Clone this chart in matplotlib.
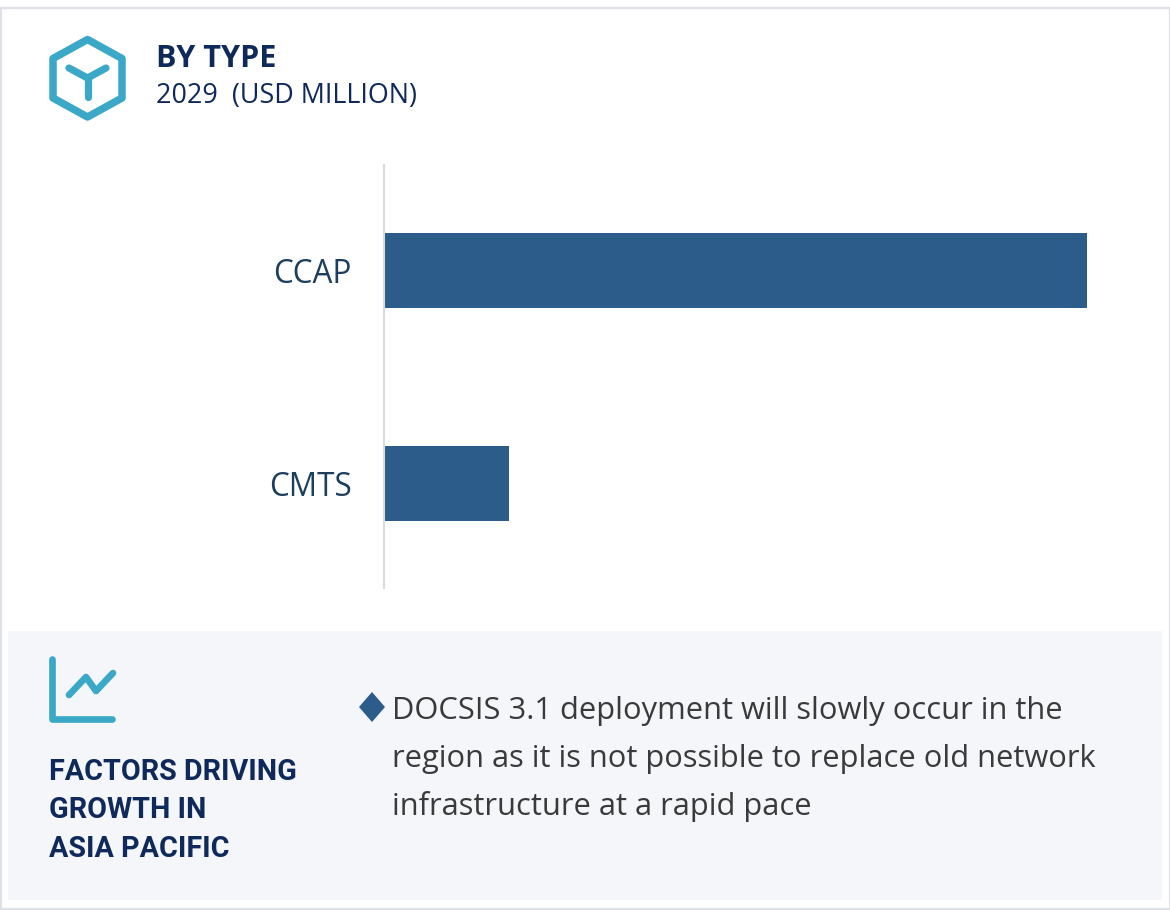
import matplotlib
matplotlib.use('Agg')
import matplotlib.pyplot as plt
from matplotlib.patches import Rectangle, Polygon

categories = ['CCAP', 'CMTS']
values = [100, 17.7]

W, H = 1170, 910
navy = '#0f2a5a'
teal = '#3aa8c6'
blue = '#2b5c8a'
grey_text = '#3a3a3a'

fig = plt.figure(figsize=(W / 100, H / 100), dpi=100)

# background layer in pixel coords (frame, panel, icons, text)
bg = fig.add_axes([0, 0, 1, 1])
bg.set_xlim(0, W)
bg.set_ylim(H, 0)
bg.axis('off')

bg.add_patch(Rectangle((0.5, 7.5), W - 1, 901, fc='white', ec='#dfe1e8', lw=1.6))
bg.add_patch(Rectangle((8, 631), 1154, 269, fc='#f4f6fa', ec='none'))

# hexagon icon
hexagon = [(87.5, 39.5), (122, 58.5), (122, 98), (87.5, 117), (53, 98), (53, 58.5)]
bg.add_patch(Polygon(hexagon, closed=True, fc='none', ec=teal, lw=5.4, joinstyle='round'))
bg.plot([69, 87.5, 106], [68, 78, 68], color=teal, lw=5.2, solid_capstyle='round', solid_joinstyle='round')
bg.plot([87.5, 87.5], [78, 97], color=teal, lw=5.2, solid_capstyle='round')

# line chart icon
bg.plot([52, 52, 112], [659, 719, 719], color=teal, lw=4.8, solid_capstyle='round', solid_joinstyle='round')
bg.plot([69, 86, 96, 113], [695, 677, 691, 673], color=teal, lw=4.8, solid_capstyle='round', solid_joinstyle='round')

bg.text(156, 59, 'BY TYPE', fontsize=22, fontweight='bold', family='Open Sans', color=navy, va='center')
bg.text(156, 96, '2029  (USD MILLION)', fontsize=19.4, family='Open Sans', color=navy, va='center')

for y, line in zip([772, 810, 849], ['FACTORS DRIVING', 'GROWTH IN', 'ASIA PACIFIC']):
    bg.text(49, y, line, fontsize=20.7, fontweight='bold', family='Roboto', color=navy, va='center')

# bullet
bg.add_patch(Polygon([(372, 692), (385, 707), (372, 722), (359, 707)], closed=True, fc=blue, ec='none'))
for y, line in zip([711, 759, 807], ['DOCSIS 3.1 deployment will slowly occur in the',
                                     'region as it is not possible to replace old network',
                                     'infrastructure at a rapid pace']):
    bg.text(392, y, line, fontsize=22.2, family='Open Sans', color=grey_text, va='center')

# bars
ax = fig.add_axes([385 / W, 1 - 588 / H, 702 / W, 423 / H])
ax.patch.set_alpha(0)
ax.barh(categories, values, height=0.352, color=blue)
ax.set_xlim(0, 100)
ax.set_ylim(1.491, -0.495)
ax.xaxis.set_visible(False)
for s in ['top', 'right', 'bottom']:
    ax.spines[s].set_visible(False)
ax.spines['left'].set_color('#d9dbdd')
ax.spines['left'].set_linewidth(1.5)
ax.spines['left'].set_position(('outward', 0.7))
ax.tick_params(axis='y', length=0, pad=23.5, labelsize=22.7, labelcolor='#1d3f5e')
for lab in ax.get_yticklabels():
    lab.set_family('Open Sans')

fig.savefig('out.png', dpi=100)
